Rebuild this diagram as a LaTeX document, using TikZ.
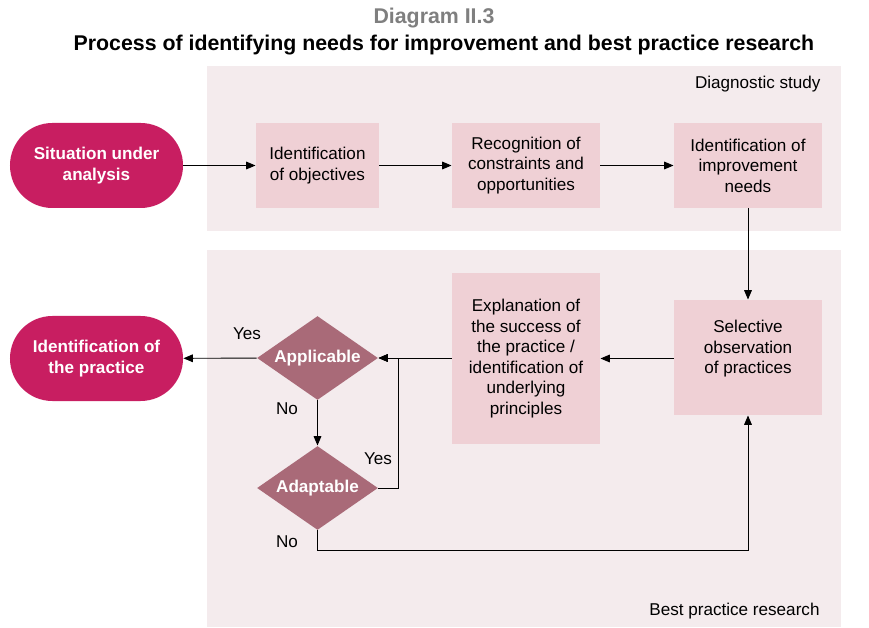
\documentclass[tikz,border=0pt]{standalone}
\usepackage{fontspec}
\setmainfont{Liberation Sans}
\usetikzlibrary{arrows.meta, positioning, shapes.geometric}
\definecolor{panelpink}{HTML}{F4EBED}
\definecolor{boxpink}{HTML}{EFD0D5}
\definecolor{pillred}{HTML}{C81E61}
\definecolor{decmauve}{HTML}{A96A78}
\definecolor{titlegray}{HTML}{7F7F7F}
\tikzset{>={Triangle[length=2.8mm,width=2.3mm]}}
\tikzset{
  panel/.style={fill=panelpink, draw=none},
  pill/.style={fill=pillred, rounded corners=1.27cm, minimum width=5.19cm, minimum height=2.55cm,
    text=white, font=\fontsize{14.6}{17.5}\selectfont\bfseries, align=center},
  stepbox/.style={fill=boxpink, minimum height=2.55cm, align=center, inner sep=2pt,
    font=\fontsize{14.6}{17.5}\selectfont},
  decision/.style={diamond, aspect=1.5, fill=decmauve, minimum width=3.63cm, minimum height=2.52cm, inner sep=0pt,
    text=white, font=\fontsize{14.6}{17.5}\selectfont\bfseries},
  lbl/.style={font=\fontsize{14.6}{17.5}\selectfont, inner sep=0pt}
}
\begin{document}
\begin{tikzpicture}[x=0.03cm, y=-0.03cm, line width=0.8pt]
  \useasboundingbox (0,0) rectangle (869,628);
  % titles
  \node[font=\fontsize{18.2}{21}\selectfont\bfseries, text=titlegray] (dtitle) at (434,18) {Diagram II.3};
  \node[font=\fontsize{18.2}{21}\selectfont\bfseries] (ptitle) at (444,45) {Process of identifying needs for improvement and best practice research};
  % panels
  \fill[panel] (207,66) rectangle (841,231);
  \fill[panel] (207,250) rectangle (841,627);
  \node[lbl, anchor=east] (diag) at (821,84) {Diagnostic study};
  \node[lbl, anchor=east] (best) at (820,611) {Best practice research};
  % nodes
  \node[pill] (sit) at (96.5,165.5) {Situation under\\analysis};
  \node[stepbox, minimum width=3.69cm] (obj) at (317.5,165.5) {Identification\\of objectives};
  \node[stepbox, minimum width=4.44cm] (con) at (526,165.5) {Recognition of\\constraints and\\opportunities};
  \node[stepbox, minimum width=4.44cm] (imp) at (748,165.5) {Identification of\\improvement\\needs};
  \node[stepbox, minimum width=4.44cm, minimum height=3.45cm] (sel) at (748,357.5) {Selective\\observation\\of practices\\\mbox{}};
  \node[stepbox, minimum width=4.44cm, minimum height=5.13cm] (exp) at (526,358.5) {Explanation of\\the success of\\the practice /\\identification of\\underlying\\principles};
  \node[decision] (app) at (317.5,358) {Applicable};
  \node[decision] (ada) at (317.5,488) {Adaptable};
  \node[pill] (idp) at (96.5,358.5) {Identification of\\the practice};
  % connectors
  \draw[->] (sit) -- (obj);
  \draw[->] (obj) -- (con);
  \draw[->] (con) -- (imp);
  \draw[->] (imp) -- (sel);
  \draw[->] (sel.west |- exp.east) -- (exp.east);
  \draw[->] (exp.west |- app.east) -- (app.east);
  \draw[->] (app) -- (idp);
  \draw[->] (app) -- (ada);
  \draw[->] (ada.east) -- ++(20,0) |- (app.east);
  \draw[->] (ada.south) -- ++(0,20) -| (sel.south);
  % answers
  \node[lbl] (y1) at (247,334) {Yes};
  \node[lbl] (n1) at (287,409) {No};
  \node[lbl] (y2) at (378,459) {Yes};
  \node[lbl] (n2) at (287,542) {No};
\end{tikzpicture}
\end{document}
